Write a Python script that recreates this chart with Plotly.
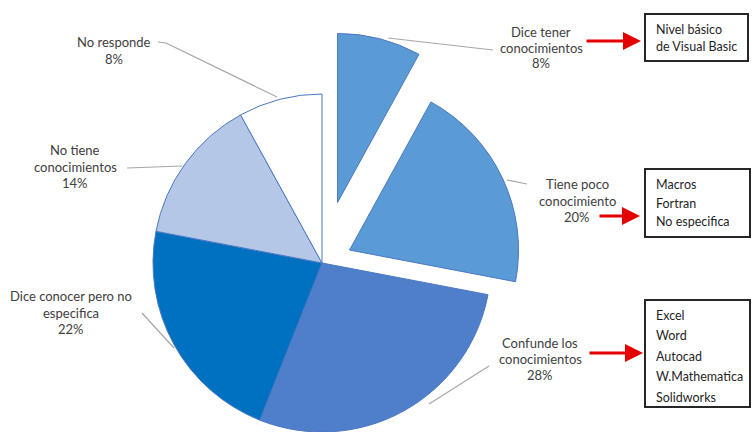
import math
import plotly.graph_objects as go

# Survey answers, clockwise from 12 o'clock
labels = [
    "Dice tener conocimientos",
    "Tiene poco conocimiento",
    "Confunde los conocimientos",
    "Dice conocer pero no especifica",
    "No tiene conocimientos",
    "No responde",
]
label_lines = [
    ["Dice tener", "conocimientos"],
    ["Tiene poco", "conocimiento"],
    ["Confunde los", "conocimientos"],
    ["Dice conocer pero no", "especifica"],
    ["No tiene", "conocimientos"],
    ["No responde"],
]
values = [8, 20, 28, 22, 14, 8]
slice_colors = ["#5b9bd5", "#5b9bd5", "#4f7fcb", "#0070c0", "#b4c7e7", "#ffffff"]
explode = [0.37, 0.18, 0, 0, 0, 0]

# Detail boxes attached to some answers
box_items = {
    0: ["Nivel básico", "de Visual Basic"],
    1: ["Macros", "Fortran", "No especifica"],
    2: ["Excel", "Word", "Autocad", "W.Mathematica", "Solidworks"],
}

W, H = 752, 432
CX, CY, R = 322, 263, 169
EDGE = "#4a78c2"
TEXT = "#404040"
FONT = "Lato"


def fx(p):
    return p / W


def fy(p):
    return 1 - p / H


def domain_at(cx, cy):
    return dict(x=[fx(cx - R), fx(cx + R)], y=[max(0, fy(cy + R)), min(1, fy(cy - R))])


fig = go.Figure()
total = sum(values)


def pie_trace(visible_idx, cx, cy):
    cols = [c if i in visible_idx else "rgba(0,0,0,0)" for i, c in enumerate(slice_colors)]
    widths = [1 if i in visible_idx else 0 for i in range(len(values))]
    return go.Pie(
        labels=labels,
        values=values,
        sort=False,
        direction="clockwise",
        rotation=0,
        textinfo="none",
        hoverinfo="label+percent",
        showlegend=False,
        marker=dict(colors=cols, line=dict(color=EDGE, width=widths)),
        domain=domain_at(cx, cy),
    )


# Slices that stay in place
fig.add_trace(pie_trace([i for i, e in enumerate(explode) if e == 0], CX, CY))

# Exploded slices, shifted along their bisector
cum = 0
for i, v in enumerate(values):
    mid = math.radians(360 * (cum + v / 2) / total)
    cum += v
    if explode[i] > 0:
        d = explode[i] * R
        fig.add_trace(pie_trace([i], CX + d * math.sin(mid), CY - d * math.cos(mid)))

annotations = []
shapes = []


def add_text_block(lines, x, y0, step, align="center", color=TEXT, size=13):
    for k, t in enumerate(lines):
        annotations.append(dict(
            x=fx(x), y=fy(y0 + k * step), xref="paper", yref="paper",
            text=t, showarrow=False, xanchor=align, yanchor="middle",
            font=dict(family=FONT, size=size, color=color),
        ))


# Slice labels: name + percentage
label_pos = [
    (541, 32, 15.5),
    (577, 184, 16.5),
    (540, 343, 16),
    (71, 296, 16.5),
    (75, 150, 16.5),
    (114, 42, 17),
]
for i, (x, y0, step) in enumerate(label_pos):
    add_text_block(label_lines[i] + [f"{values[i]}%"], x, y0, step)

# Leader lines
leaders = [
    [(388, 38), (493, 50)],
    [(507, 180), (527, 184)],
    [(489, 366), (429, 404)],
    [(142, 313), (174, 348)],
    [(127, 168), (182, 166)],
    [(158, 42), (166, 43), (277, 97)],
]
for pts in leaders:
    for (x0, y0), (x1, y1) in zip(pts[:-1], pts[1:]):
        shapes.append(dict(type="line", xref="paper", yref="paper",
                           x0=fx(x0), y0=fy(y0), x1=fx(x1), y1=fy(y1),
                           line=dict(color="#a6a6a6", width=1.2)))

# Boxes with details and red arrows pointing at them
boxes = {
    0: dict(rect=(645, 14, 748, 61), text_x=654, text_y=29, step=18, arrow=(585, 641, 41)),
    1: dict(rect=(645, 169, 750, 237), text_x=654, text_y=185, step=18, arrow=(598, 640, 216)),
    2: dict(rect=(645, 300, 750, 407), text_x=654, text_y=315, step=20.5, arrow=(588, 643, 353)),
}
for i, b in boxes.items():
    x0, y0, x1, y1 = b["rect"]
    shapes.append(dict(type="rect", xref="paper", yref="paper",
                       x0=fx(x0), y0=fy(y1), x1=fx(x1), y1=fy(y0),
                       line=dict(color="#262626", width=2), fillcolor="white"))
    add_text_block(box_items[i], b["text_x"], b["text_y"], b["step"], align="left",
                   color="#1f1f1f", size=12.5)
    tx, hx, ay = b["arrow"]
    annotations.append(dict(
        x=fx(hx), y=fy(ay), xref="paper", yref="paper", text="",
        showarrow=True, ax=tx - hx, ay=0, axref="pixel", ayref="pixel",
        arrowhead=2, arrowsize=1.2, arrowwidth=3, arrowcolor="#e50000", standoff=0,
    ))

fig.update_layout(
    width=W, height=H,
    margin=dict(l=0, r=0, t=0, b=0),
    paper_bgcolor="white",
    plot_bgcolor="white",
    annotations=annotations,
    shapes=shapes,
    font=dict(family=FONT, color=TEXT),
)

fig.write_html("out.html")
